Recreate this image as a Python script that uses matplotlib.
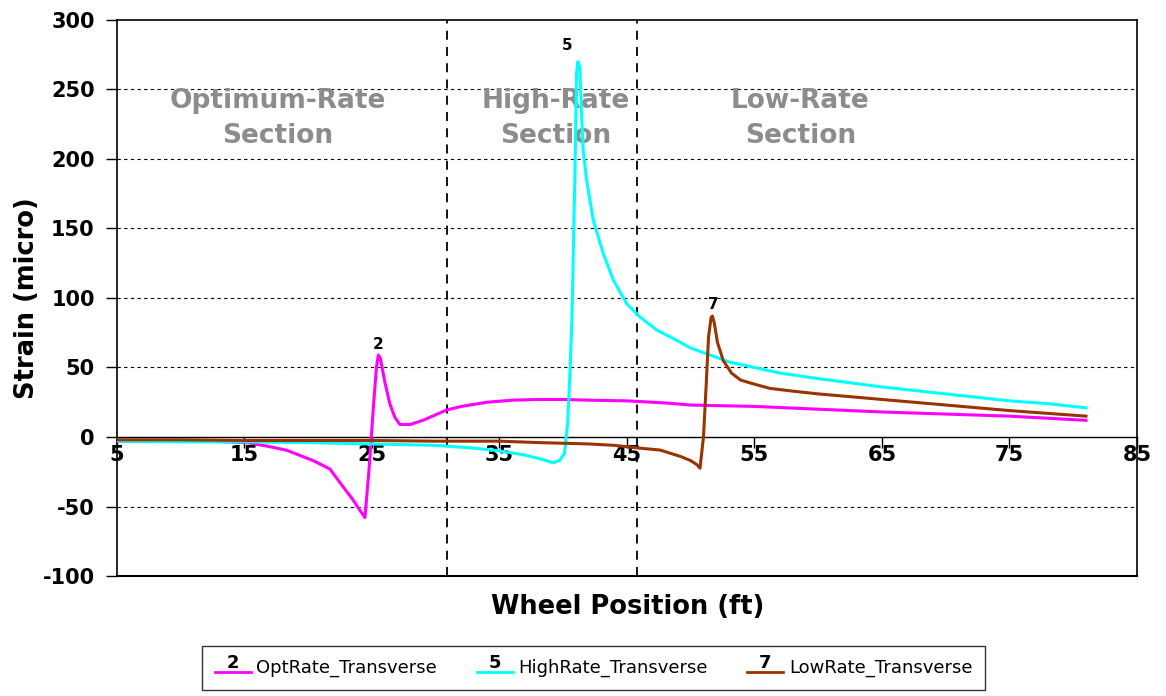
import matplotlib
matplotlib.use('Agg')
import matplotlib.pyplot as plt
from matplotlib.lines import Line2D
from matplotlib.text import Text
from matplotlib.legend_handler import HandlerBase

plt.rcParams['font.family'] = ['DejaVu Sans']
plt.rcParams['axes.unicode_minus'] = False

# Strain traces
opt_x = [5, 8, 10, 12, 15.2, 17, 18.3, 20.4, 21.7, 22.75, 23.5, 24.0, 24.45, 24.8, 25.1, 25.35,
         25.5, 25.65, 26.0, 26.4, 26.8, 27.2, 28.0, 29.0, 30.0, 30.85, 32, 34, 36, 38, 40, 42,
         45, 48, 50, 55, 60, 65, 70, 75, 78, 81]
opt_y = [-3, -3, -2.5, -3, -4, -7, -9.5, -17, -23, -36, -45, -52, -58, -20, 20, 50,
         59, 57, 40, 24, 14, 9, 9, 12, 16, 19.4, 22, 25, 26.5, 27, 27, 26.5,
         26, 24.5, 23, 22, 20, 18, 16.5, 15, 13.5, 12]

high_x = [5, 10, 15, 20, 25, 30, 33, 35, 37, 38.3, 39.2, 39.7, 40.1, 40.35, 40.55, 40.7, 40.8,
          40.92, 41.05, 41.15, 41.3, 41.45, 41.57, 41.83, 42.36, 43.14, 43.93, 44.97, 46.0,
          47.33, 48.6, 50, 53, 57, 60, 65, 70, 75, 78, 81]
high_y = [-3, -3.5, -3.5, -4, -5, -6, -8, -10, -13, -16, -18.5, -17, -12, 10, 50, 90, 137,
          190, 262, 270, 266, 230, 206, 185, 156, 132, 113, 96, 86.5,
          77, 71, 64, 54, 46, 42, 36, 31, 26, 24, 21]

low_x = [5, 10, 15, 20, 25, 30, 35, 38, 40, 42, 44, 45, 46, 47.6, 49.2, 50.0, 50.5, 50.73,
         51.0, 51.2, 51.4, 51.6, 51.7, 51.85, 52.1, 52.55, 53.2, 53.9, 55, 56.2, 58, 60, 65,
         70, 75, 78, 81]
low_y = [-2, -2, -2.5, -2.5, -2.5, -3, -3, -4, -4.5, -5, -6, -7, -8, -9.4, -14, -17, -20, -22.5,
         0, 35, 72, 86, 87, 82, 68, 55, 46, 41, 38, 35, 33, 31, 27,
         23, 19, 17, 15]

series_names = ['OptRate_Transverse', 'HighRate_Transverse', 'LowRate_Transverse']
series_tags = ['2', '5', '7']
series_colors = ['#ff00ff', '#00ffff', '#993300']
tag_pos = [(25.5, 61), (40.3, 276), (51.75, 90)]

section_x = [30.9, 45.8]
section_labels = ['Optimum-Rate\nSection', 'High-Rate\nSection', 'Low-Rate\nSection']
section_label_x = [17.6, 39.4, 58.6]

x_ticks = list(range(5, 86, 10))
y_ticks = list(range(-100, 301, 50))


class TaggedLine(HandlerBase):
    # legend key: short line with the series number sitting on top of it
    def __init__(self, tag):
        super().__init__()
        self.tag = tag

    def create_artists(self, legend, orig_handle, xdescent, ydescent, width, height,
                       fontsize, trans):
        y = height * 0.1 - ydescent
        ln = Line2D([-xdescent, width - xdescent], [y, y],
                    color=orig_handle.get_color(), lw=2, transform=trans)
        tx = Text(width / 2 - xdescent, y, self.tag, ha='center', va='bottom',
                  fontsize=fontsize, fontweight='bold', transform=trans)
        return [ln, tx]


fig = plt.figure(figsize=(11.66, 6.96), dpi=100)
ax = fig.add_axes([0.1003, 0.1724, 0.8748, 0.7989])

lines = []
for xs, ys, c in zip([opt_x, high_x, low_x], [opt_y, high_y, low_y], series_colors):
    l, = ax.plot(xs, ys, color=c, lw=2.2, zorder=3)
    lines.append(l)

for (tx, ty), tag in zip(tag_pos, series_tags):
    ax.text(tx, ty, tag, ha='center', va='bottom', fontsize=11, fontweight='bold', zorder=4)

# horizontal gridlines
for yv in y_ticks:
    if yv not in (-100, 0, 300):
        ax.axhline(yv, color='black', lw=0.8, ls=(0, (3, 3)), zorder=1)

for xv in section_x:
    ax.axvline(xv, color='black', lw=1.3, ls=(0, (5, 4)), zorder=2)

for xv, txt in zip(section_label_x, section_labels):
    ax.text(xv, 229, txt, ha='center', va='center', fontsize=19, fontweight='bold',
            color='#8c8c8c', linespacing=1.45, zorder=2)

ax.set_xlim(5, 85)
ax.set_ylim(-100, 300)
ax.set_xticks(x_ticks)
ax.set_yticks(y_ticks)

# x axis crosses at zero, plot frame kept all round
ax.spines['bottom'].set_position(('data', 0))
ax.spines['bottom'].set_linewidth(1.0)
ax.axhline(-100, color='black', lw=1.5, clip_on=False, zorder=5)
for s in ['left', 'top', 'right']:
    ax.spines[s].set_linewidth(1.2)

ax.tick_params(axis='x', direction='out', length=8, width=1, pad=-2, labelsize=15)
ax.tick_params(axis='y', direction='out', length=8, width=1, pad=8, labelsize=15)
for lab in ax.get_xticklabels() + ax.get_yticklabels():
    lab.set_fontweight('bold')

ax.set_ylabel('Strain (micro)', fontsize=18.5, fontweight='bold', labelpad=2)
fig.text(0.538, 0.128, 'Wheel Position (ft)', ha='center', va='center',
         fontsize=18.5, fontweight='bold')

leg = fig.legend(lines, series_names, loc='center', bbox_to_anchor=(0.509, 0.040), ncol=3,
                 fontsize=13, frameon=True, fancybox=False, edgecolor='black',
                 handlelength=2.0, handletextpad=0.3, columnspacing=2.2,
                 borderpad=0.7, borderaxespad=0,
                 handler_map={l: TaggedLine(t) for l, t in zip(lines, series_tags)})
leg.get_frame().set_linewidth(1.0)

fig.savefig('out.png', dpi=100)
